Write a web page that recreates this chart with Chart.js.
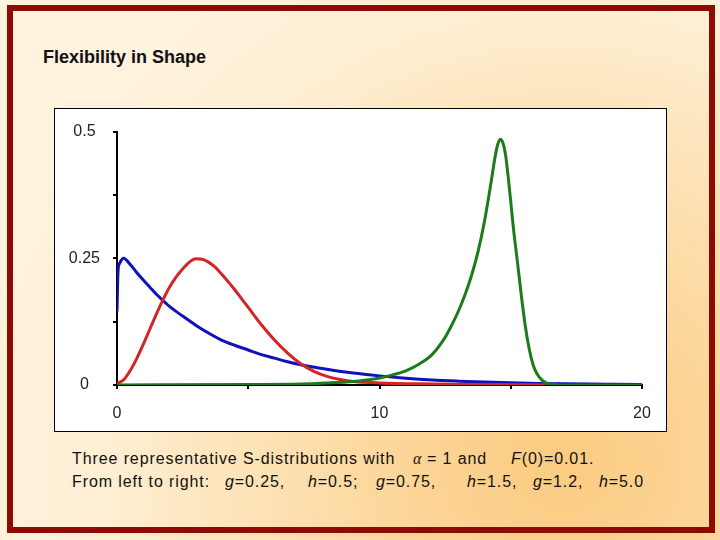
<!DOCTYPE html>
<html>
<head>
<meta charset="utf-8">
<script src="https://cdn.jsdelivr.net/npm/chart.js@4.4.1/dist/chart.umd.min.js"></script>
<style>
  html, body { margin: 0; padding: 0; }
  body {
    width: 720px; height: 540px; overflow: hidden; position: relative;
    font-family: "Liberation Sans", Arial, sans-serif;
    background: radial-gradient(circle at 562px 459px, #FBCB80 0px, #FCD597 150px, #FDE4BA 330px, #FEEFD4 460px, #FFF3DE 600px);
  }
  #frame {
    position: absolute; left: 7px; top: 5px; width: 708px; height: 528px;
    box-sizing: border-box; border: 6px solid #8E0B05;
  }
  #title {
    position: absolute; left: 43px; top: 48px; font-size: 18px; line-height: 18px;
    font-weight: bold; color: #111; white-space: nowrap;
  }
  #box {
    position: absolute; left: 54px; top: 108px; width: 613px; height: 324px;
    box-sizing: border-box; border: 1px solid #000; background: #fff;
  }
  #sChart { position: absolute; left: 55px; top: 109px; }
  .cap {
    position: absolute; font-size: 16px; line-height: 16px; letter-spacing: 0.9px;
    color: #111; white-space: nowrap;
  }
  .cap i { font-style: italic; }
  .alpha { font-family: "Liberation Serif", "DejaVu Serif", serif; font-style: italic; letter-spacing: 0; }
</style>
</head>
<body>
<div id="frame"></div>
<div id="title">Flexibility in Shape</div>
<div id="box"></div>
<canvas id="sChart" width="611" height="322"></canvas>

<div class="cap" style="left:72px; top:451px;">Three representative S-distributions with</div>
<div class="cap alpha" style="left:413px; top:451px;">α</div>
<div class="cap" style="left:427px; top:451px;">= 1 and</div>
<div class="cap" style="left:511px; top:451px;"><i>F</i>(0)=0.01.</div>

<div class="cap" style="left:72px; top:474px;">From left to right:</div>
<div class="cap" style="left:225px; top:474px;"><i>g</i>=0.25,</div>
<div class="cap" style="left:308px; top:474px;"><i>h</i>=0.5;</div>
<div class="cap" style="left:376px; top:474px;"><i>g</i>=0.75,</div>
<div class="cap" style="left:467px; top:474px;"><i>h</i>=1.5,</div>
<div class="cap" style="left:533px; top:474px;"><i>g</i>=1.2,</div>
<div class="cap" style="left:599px; top:474px;"><i>h</i>=5.0</div>

<script>
// values
// blue: g=0.25, h=0.5
const blueX = [0, 0.04, 0.1, 0.25, 0.5, 0.75, 1.0, 1.25, 1.5, 1.83, 2.0, 2.5, 3.0, 3.5, 4.0, 4.5, 5.0, 5.5, 6.0, 6.5, 7.0, 8.0, 9.0, 10.0, 11.0, 12.0, 13.0, 14.0, 15.0, 16.0, 17.0, 18.0, 19.0, 20.0];
const blueY = [0.145, 0.225, 0.24, 0.25, 0.238, 0.222, 0.207, 0.193, 0.179, 0.163, 0.155, 0.136, 0.118, 0.102, 0.088, 0.078, 0.069, 0.060, 0.053, 0.046, 0.040, 0.031, 0.0235, 0.018, 0.0135, 0.010, 0.0076, 0.0057, 0.0043, 0.0032, 0.0024, 0.0018, 0.0014, 0.001];

// red: g=0.75, h=1.5
const redX = [0, 0.25, 0.5, 0.75, 1.0, 1.25, 1.5, 1.75, 2.0, 2.25, 2.5, 2.75, 3.0, 3.25, 3.5, 3.75, 4.0, 4.25, 4.5, 4.75, 5.0, 5.5, 6.0, 6.5, 7.0, 7.5, 8.0, 8.5, 9.0, 10.0, 12.0, 14.0, 16.8];
const redY = [0.003, 0.010, 0.028, 0.052, 0.080, 0.110, 0.140, 0.168, 0.193, 0.213, 0.229, 0.242, 0.249, 0.248, 0.242, 0.232, 0.218, 0.203, 0.187, 0.170, 0.153, 0.119, 0.089, 0.063, 0.042, 0.027, 0.017, 0.011, 0.007, 0.004, 0.002, 0.001, 0];

// green: g=1.2, h=5.0
const greenX = [0, 5, 7, 8, 9, 9.5, 10, 10.5, 11, 11.5, 12, 12.5, 12.75, 13, 13.25, 13.5, 13.75, 14, 14.25, 14.4, 14.5, 14.6, 14.7, 14.8, 14.9, 15, 15.1, 15.25, 15.4, 15.55, 15.7, 15.85, 16, 16.2, 16.4, 16.8, 20];
const greenY = [0, 0.001, 0.002, 0.004, 0.007, 0.010, 0.014, 0.020, 0.028, 0.041, 0.060, 0.094, 0.118, 0.145, 0.177, 0.215, 0.262, 0.323, 0.400, 0.449, 0.474, 0.485, 0.478, 0.455, 0.412, 0.362, 0.310, 0.245, 0.178, 0.118, 0.072, 0.040, 0.022, 0.009, 0.003, 0, 0];

const xTickLabels = [0, 10, 20];
const yTickLabels = [0, 0.25, 0.5];

function toPoints(xs, ys) {
  return xs.map((x, i) => ({ x: x, y: ys[i] }));
}

function curve(xs, ys, color, order) {
  return {
    data: toPoints(xs, ys),
    borderColor: color,
    borderWidth: 3,
    pointRadius: 0,
    cubicInterpolationMode: "monotone",
    fill: false,
    order: order,
  };
}

const ctx = document.getElementById('sChart').getContext('2d');
const tickFont = { family: "'Liberation Sans', Arial, sans-serif", size: 16 };

new Chart(ctx, {
  type: "line",
  data: {
    datasets: [
      curve(greenX, greenY, "#1C7C1C", 0),
      curve(redX, redY, "#D42424", 1),
      curve(blueX, blueY, "#1010BC", 2),
    ]
  },
  options: {
    responsive: false,
    animation: false,
    layout: { padding: { top: 15, right: 24, bottom: 0, left: 0 } },
    plugins: {
      legend: { display: false },
      tooltip: { enabled: false },
    },
    scales: {
      x: {
        type: "linear",
        min: 0,
        max: 20,
        afterFit: (s) => { s.height = 46; },
        border: { color: "#000", width: 2 },
        grid: { drawOnChartArea: false, color: "#000", lineWidth: 2, tickLength: 4 },
        ticks: {
          stepSize: 5,
          padding: 15,
          maxRotation: 0,
          color: "#222",
          font: tickFont,
          callback: (v) => xTickLabels.includes(v) ? String(v) : "",
        }
      },
      y: {
        min: 0,
        max: 0.5,
        afterFit: (s) => { s.width = 62; },
        border: { color: "#000", width: 2 },
        grid: { drawOnChartArea: false, color: "#000", lineWidth: 2, tickLength: 4 },
        ticks: {
          stepSize: 0.125,
          padding: 13,
          crossAlign: "center",
          color: "#222",
          font: tickFont,
          callback: (v) => yTickLabels.includes(v) ? String(v) : "",
        }
      }
    }
  }
});
</script>
</body>
</html>
